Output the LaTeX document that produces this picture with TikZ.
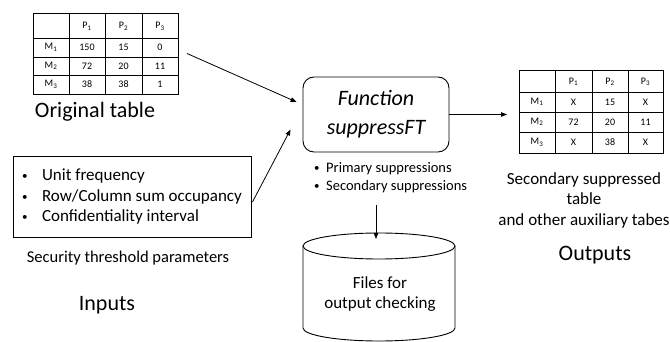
\documentclass[tikz,border=0pt]{standalone}
\usepackage{fontspec}
\setmainfont{Carlito}
\usetikzlibrary{arrows.meta}
\newcommand\dotmark[1]{\makebox[#1][l]{\raisebox{1pt}{\fontsize{11}{11}\selectfont\textbullet}}}
\begin{document}
\begin{tikzpicture}[x=1pt,y=-1pt,
  conn/.style={draw=black, line width=0.8pt, -{Triangle[length=6pt,width=4.5pt]}},
  box/.style={draw=black, line width=0.9pt},
  grid/.style={draw=black, line width=0.9pt},
  tabbox/.style={inner sep=0pt, outer sep=0pt},
  cell/.style={inner sep=0pt, font=\fontsize{10}{12}\selectfont},
  big/.style={inner sep=0pt, font=\fontsize{22}{26}\selectfont},
  mid/.style={inner sep=0pt, font=\fontsize{17}{20.5}\selectfont},
  small/.style={inner sep=0pt, font=\fontsize{14.5}{18}\selectfont}]
\useasboundingbox (0,0) rectangle (670,342);
\clip (0,0) rectangle (670,342);

% ---------- original table ----------
\node[tabbox, minimum width=145pt, minimum height=81pt] (orig) at (105.5,53.5) {};
\draw[grid] (orig.north west) rectangle (orig.south east);
\foreach \x in {69,105,142} \draw[grid] (\x,13) -- (\x,94);
\foreach \y in {38,57,75} \draw[grid] (33,\y) -- (178,\y);
\foreach \c/\x in {1/87,2/123.5,3/160}
  \node[cell] (o-p\c) at (\x,26.5) {P\textsubscript{\c}};
\foreach \r/\y/\a/\b/\c in {1/47.5/150/15/0, 2/66/72/20/11, 3/84.5/38/38/1} {
  \node[cell] (o-m\r) at (51,\y) {M\textsubscript{\r}};
  \node[cell] (o-\r-1) at (87,\y) {\a};
  \node[cell] (o-\r-2) at (123.5,\y) {\b};
  \node[cell] (o-\r-3) at (160,\y) {\c};
}
\node[big] (origlbl) at (95,112) {Original table};

% ---------- security parameters ----------
\node[box, inner sep=0pt, minimum width=238pt, minimum height=81pt,
      align=left, font=\fontsize{17}{20.5}\selectfont]
  (inputs) at (132,197)
  {\dotmark{20pt}Unit frequency\\
   \dotmark{20pt}Row/Column sum occupancy\\
   \dotmark{20pt}Confidentiality interval};
\node[inner sep=0pt, font=\fontsize{16.5}{19}\selectfont] (seclbl) at (128,258) {Security threshold parameters};
\node[big] (inlbl) at (107,305) {Inputs};

% ---------- function ----------
\node[box, rounded corners=11pt, minimum width=146pt, minimum height=75pt,
      align=center, font=\fontsize{22}{29}\selectfont\itshape]
  (func) at (376,114.5) {Function\\suppressFT};
\node[small, anchor=north west, align=left] (supp) at (314,162)
  {\dotmark{12pt}Primary suppressions\\
   \dotmark{12pt}Secondary suppressions};

% ---------- output table ----------
\node[tabbox, minimum width=144pt, minimum height=83pt] (outtab) at (591,111.5) {};
\draw[grid] (outtab.north west) rectangle (outtab.south east);
\foreach \x in {555,592,628} \draw[grid] (\x,70) -- (\x,153);
\foreach \y in {92,112,132} \draw[grid] (519,\y) -- (663,\y);
\foreach \c/\x in {1/573.5,2/610,3/645.5}
  \node[cell] (s-p\c) at (\x,82) {P\textsubscript{\c}};
\foreach \r/\y/\a/\b/\c in {1/102/X/15/X, 2/122/72/20/11, 3/142.5/X/38/X} {
  \node[cell] (s-m\r) at (537,\y) {M\textsubscript{\r}};
  \node[cell] (s-\r-1) at (573.5,\y) {\a};
  \node[cell] (s-\r-2) at (610,\y) {\b};
  \node[cell] (s-\r-3) at (645.5,\y) {\c};
}
\node[mid, align=center] (outlbl) at (584,200)
  {Secondary suppressed\\table\\and other auxiliary tabes};
\node[big] (outputs) at (595,255) {Outputs};

% ---------- file store ----------
\draw[box] (379,246) ellipse[x radius=76, y radius=13];
\draw[box] (303,246) -- (303,328) arc[start angle=180, end angle=0, x radius=76, y radius=13] -- (455,246);
\coordinate (cyltop) at (376,239);
\node[mid, align=center] (files) at (380,294) {Files for\\output checking};

% ---------- connectors ----------
\draw[conn] ([xshift=9pt]orig.east) -- ([xshift=-6pt,yshift=12.5pt]func.west);
\draw[conn] ([xshift=1pt,yshift=-5pt]inputs.east) -- ([xshift=-12pt,yshift=-15pt]func.west);
\path (func.east -| outtab.west) coordinate (outin);
\draw[conn] (func.east) -- ([xshift=-12pt]outin);
\draw[conn] ([yshift=-53pt]func.south) -- (cyltop);
\end{tikzpicture}
\end{document}
